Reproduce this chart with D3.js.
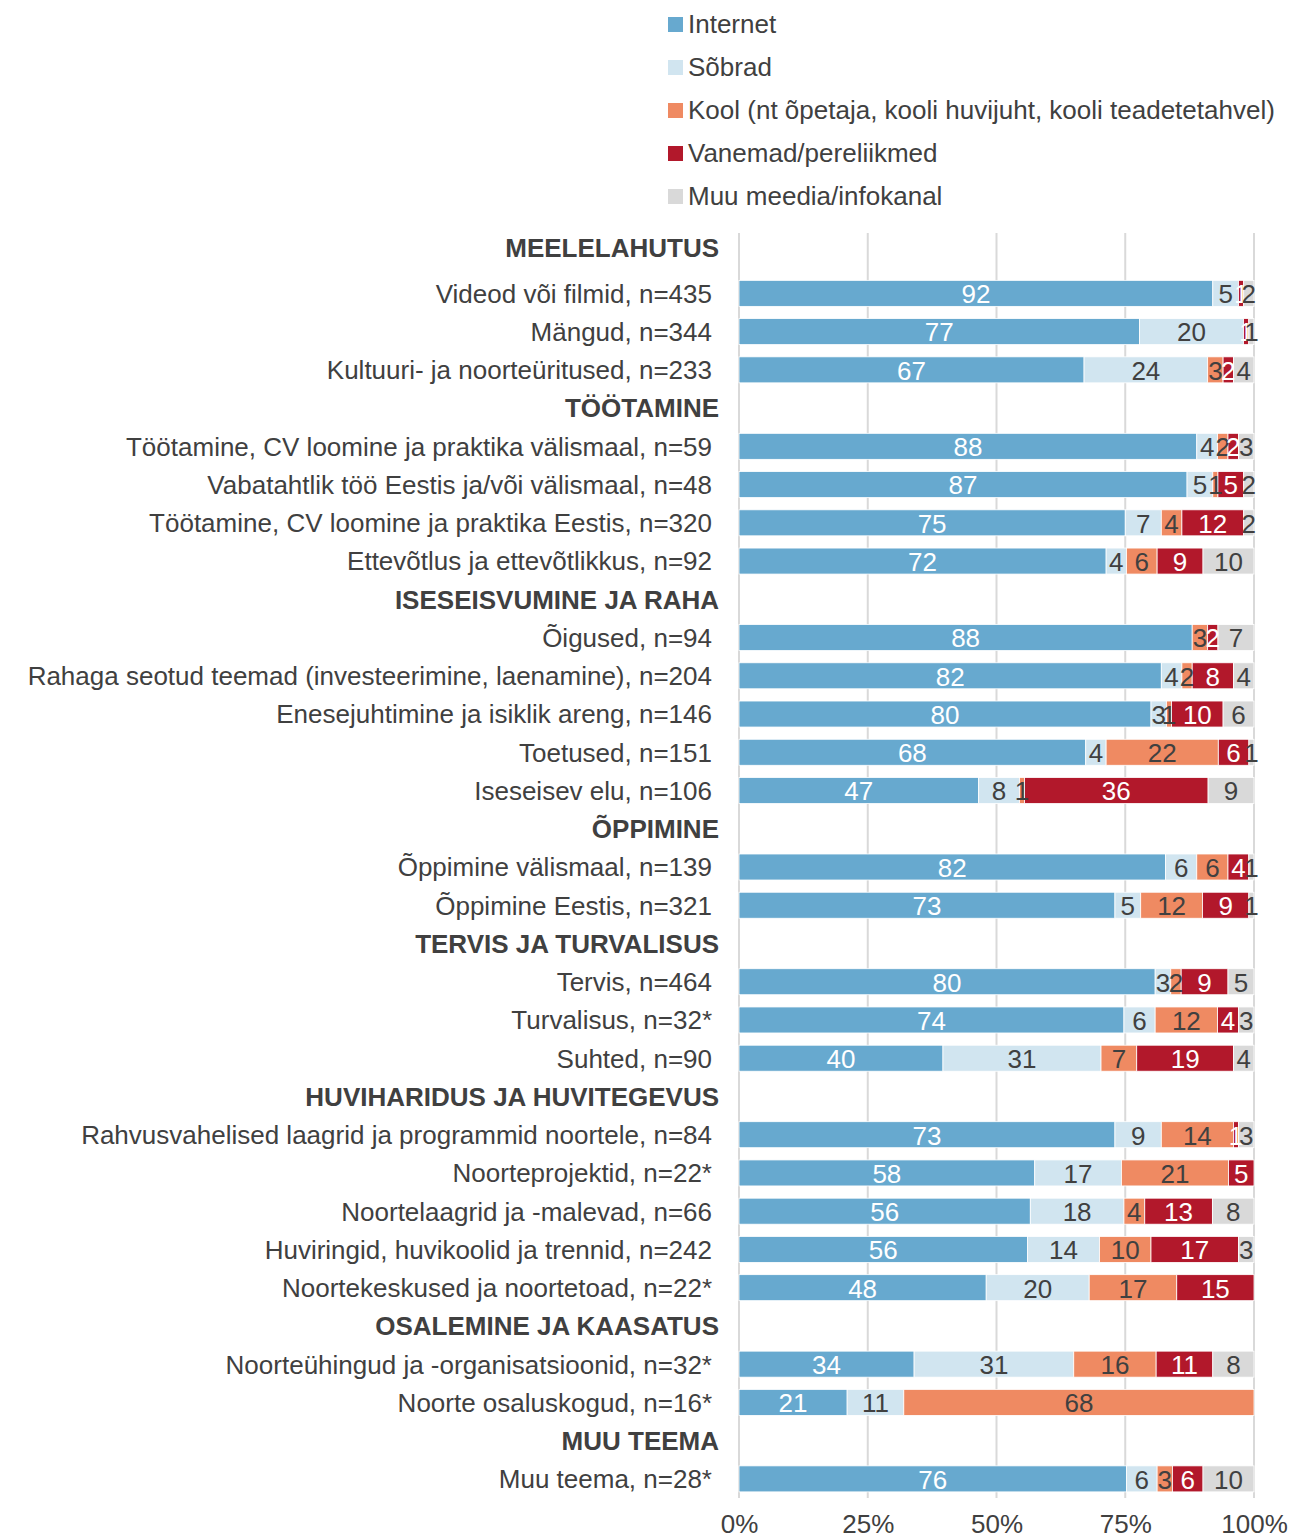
<!DOCTYPE html>
<html><head><meta charset="utf-8">
<script src="https://cdn.jsdelivr.net/npm/d3@7"></script>
<style>body{margin:0;background:#fff}svg{display:block}text{font-family:"Liberation Sans",Arial,sans-serif}</style>
</head><body><svg id="c" width="1290" height="1539"></svg>
<script>
const seriesNames = ["Internet","Sõbrad","Kool (nt õpetaja, kooli huvijuht, kooli teadetetahvel)","Vanemad/pereliikmed","Muu meedia/infokanal"];
const seriesColors = ["#67a9cf","#d1e5f0","#ef8a62","#b2182b","#d9d9d9"];
const labelColors = ["#ffffff","#404040","#404040","#ffffff","#404040"];
// rows: header rows have no values
const rowLabels = [
 "MEELELAHUTUS","Videod või filmid, n=435","Mängud, n=344","Kultuuri- ja noorteüritused, n=233",
 "TÖÖTAMINE","Töötamine, CV loomine ja praktika välismaal, n=59","Vabatahtlik töö Eestis ja/või välismaal, n=48","Töötamine, CV loomine ja praktika Eestis, n=320","Ettevõtlus ja ettevõtlikkus, n=92",
 "ISESEISVUMINE JA RAHA","Õigused, n=94","Rahaga seotud teemad (investeerimine, laenamine), n=204","Enesejuhtimine ja isiklik areng, n=146","Toetused, n=151","Iseseisev elu, n=106",
 "ÕPPIMINE","Õppimine välismaal, n=139","Õppimine Eestis, n=321",
 "TERVIS JA TURVALISUS","Tervis, n=464","Turvalisus, n=32*","Suhted, n=90",
 "HUVIHARIDUS JA HUVITEGEVUS","Rahvusvahelised laagrid ja programmid noortele, n=84","Noorteprojektid, n=22*","Noortelaagrid ja -malevad, n=66","Huviringid, huvikoolid ja trennid, n=242","Noortekeskused ja noortetoad, n=22*",
 "OSALEMINE JA KAASATUS","Noorteühingud ja -organisatsioonid, n=32*","Noorte osaluskogud, n=16*",
 "MUU TEEMA","Muu teema, n=28*"
];
const isHeader = [1,0,0,0, 1,0,0,0,0, 1,0,0,0,0,0, 1,0,0, 1,0,0,0, 1,0,0,0,0,0, 1,0,0, 1,0];
const internet  = [null,92,77,67, null,88,87,75,72, null,88,82,80,68,47, null,82,73, null,80,74,40, null,73,58,56,56,48, null,34,21, null,76];
const sobrad    = [null,5,20,24, null,4,5,7,4, null,0,4,3,4,8, null,6,5, null,3,6,31, null,9,17,18,14,20, null,31,11, null,6];
const kool      = [null,0,0,3, null,2,1,4,6, null,3,2,1,22,1, null,6,12, null,2,12,7, null,14,21,4,10,17, null,16,68, null,3];
const vanemad   = [null,1,1,2, null,2,5,12,9, null,2,8,10,6,36, null,4,9, null,9,4,19, null,1,5,13,17,15, null,11,0, null,6];
const muu       = [null,2,1,4, null,3,2,2,10, null,7,4,6,1,9, null,1,1, null,5,3,4, null,3,0,8,3,0, null,8,0, null,10];
const xTicks = [0,0.25,0.5,0.75,1];
const xTickLabels = ["0%","25%","50%","75%","100%"];

const FS = 26;
const svg = d3.select("#c");
const x = d3.scaleLinear().domain([0,1]).range([739,1254]);
const y = d3.scaleBand().domain(d3.range(rowLabels.length)).range([236,1498]).paddingInner(0.32).paddingOuter(0.16);

// gridlines
svg.append("g").selectAll("line").data(xTicks).join("line")
  .attr("x1",d=>x(d)).attr("x2",d=>x(d)).attr("y1",233).attr("y2",1498)
  .attr("stroke","#d9d9d9").attr("stroke-width",2);

const allSeries = [internet,sobrad,kool,vanemad,muu];
const rows = [];
rowLabels.forEach((l,i)=>{
  if(isHeader[i]) return;
  const vals = allSeries.map(s=>s[i]);
  const tot = d3.sum(vals);
  let c = 0;
  vals.forEach((v,k)=>{ rows.push({i,k,v,x0:c/tot,x1:(c+v)/tot}); c+=v; });
});
const segs = rows.filter(d=>d.v>0);
svg.append("g").selectAll("rect").data(segs).join("rect")
  .attr("x",d=>x(d.x0)).attr("width",d=>x(d.x1)-x(d.x0))
  .attr("y",d=>y(d.i)).attr("height",y.bandwidth())
  .attr("fill",d=>seriesColors[d.k]).attr("stroke","#fff").attr("stroke-width",0.8);
svg.append("g").selectAll("text").data(segs).join("text")
  .attr("x",d=>x((d.x0+d.x1)/2)).attr("y",d=>y(d.i)+y.bandwidth()/2)
  .attr("dy","0.38em").attr("text-anchor","middle")
  .attr("font-size",FS).attr("fill",d=>labelColors[d.k]).text(d=>d.v);

// category labels
svg.append("g").selectAll("text").data(rowLabels).join("text")
  .attr("x",(d,i)=>isHeader[i]?719:712)
  .attr("y",(d,i)=>y(i)+y.bandwidth()/2 - (i===0?7:0))
  .attr("dy","0.36em").attr("text-anchor","end")
  .attr("font-size",FS).attr("font-weight",(d,i)=>isHeader[i]?"bold":"normal")
  .attr("fill","#404040").text(d=>d);

// x axis labels
const ax = svg.append("g").attr("transform","translate(0,1512)")
  .call(d3.axisBottom(x).tickValues(xTicks).tickFormat((d,i)=>xTickLabels[i]).tickSize(0));
ax.select(".domain").remove();
ax.selectAll("text").attr("font-size",FS).attr("fill","#404040").attr("font-family","Liberation Sans, Arial, sans-serif");

// legend
const lg = svg.append("g");
const ly = d3.scalePoint().domain(d3.range(seriesNames.length)).range([24,196]);
lg.selectAll("rect").data(seriesNames).join("rect")
  .attr("x",668).attr("y",(d,i)=>ly(i)-7).attr("width",15).attr("height",15)
  .attr("fill",(d,i)=>seriesColors[i]);
lg.selectAll("text").data(seriesNames).join("text")
  .attr("x",688).attr("y",(d,i)=>ly(i)).attr("dy","0.36em")
  .attr("font-size",FS).attr("fill","#404040").text(d=>d);
</script></body></html>
